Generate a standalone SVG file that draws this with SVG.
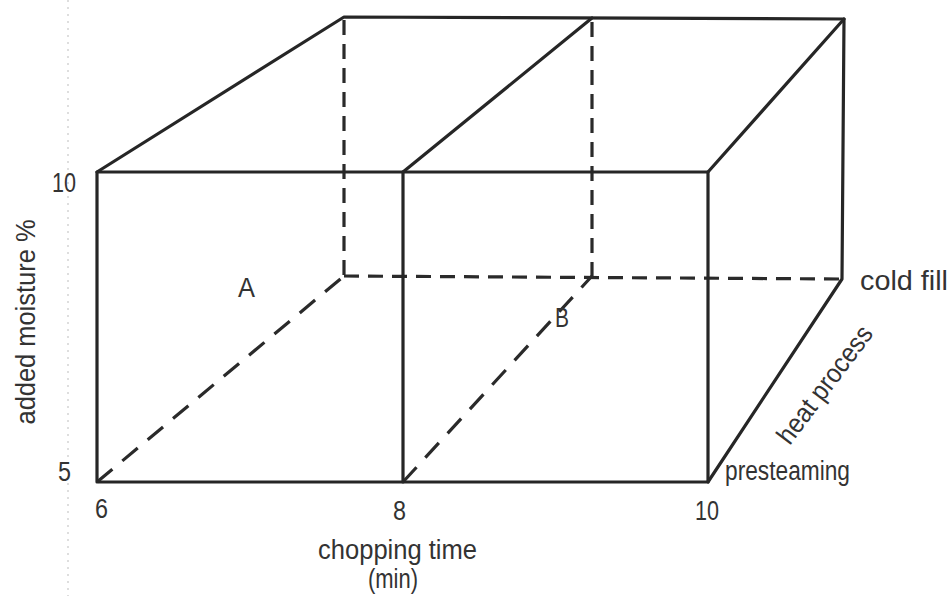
<svg xmlns="http://www.w3.org/2000/svg" width="950" height="596" viewBox="0 0 950 596">
<style>
.s{stroke:#262626;stroke-width:3.2;fill:none;stroke-linecap:round;stroke-linejoin:round}
.d{stroke:#2a2a2a;stroke-width:3.2;fill:none;stroke-dasharray:15 9}
.dd{stroke:#2a2a2a;stroke-width:3.2;fill:none;stroke-dasharray:20 13}
.t{font-family:"Liberation Sans",Arial,sans-serif;font-size:27px;fill:#333}
.g{stroke:#c8c8c8;stroke-width:1.2;stroke-dasharray:2 5;fill:none}
</style>
<rect width="950" height="596" fill="#fff"/>
<line class="g" x1="68" y1="0" x2="68" y2="596"/>
<g id="connectors">
<line class="d" x1="344" y1="20" x2="344" y2="276"/>
<line class="d" x1="592" y1="22" x2="592" y2="276"/>
<line class="d" x1="344" y1="276" x2="842" y2="279"/>
<line class="dd" x1="97" y1="482" x2="344" y2="276"/>
<line class="dd" x1="403" y1="482" x2="592" y2="276"/>
<polyline class="s" points="97,482 97,172 708,172 708,482 97,482"/>
<line class="s" x1="403" y1="172" x2="403" y2="482"/>
<polyline class="s" points="97,172 344,17 844,19 842,279 708,482"/>
<line class="s" x1="403" y1="172" x2="592" y2="18"/>
<line class="s" x1="708" y1="172" x2="844" y2="19"/>
</g>
<g id="axis-moisture">
<text class="t" x="52" y="192" textLength="24" lengthAdjust="spacingAndGlyphs">10</text>
<text class="t" x="58" y="481" textLength="13" lengthAdjust="spacingAndGlyphs">5</text>
<text class="t" transform="translate(35,322) rotate(-90)" text-anchor="middle" textLength="205" lengthAdjust="spacingAndGlyphs">added  moisture %</text>
</g>
<g id="axis-time">
<text class="t" x="95" y="518" textLength="13" lengthAdjust="spacingAndGlyphs">6</text>
<text class="t" x="393" y="520" textLength="13" lengthAdjust="spacingAndGlyphs">8</text>
<text class="t" x="695" y="520" textLength="24" lengthAdjust="spacingAndGlyphs">10</text>
<text class="t" x="318" y="559" textLength="159" lengthAdjust="spacingAndGlyphs">chopping  time</text>
<text class="t" x="368" y="588" textLength="50" lengthAdjust="spacingAndGlyphs">(min)</text>
</g>
<g id="axis-heat">
<text class="t" x="860" y="290" textLength="88" lengthAdjust="spacingAndGlyphs">cold  fill</text>
<text class="t" x="725" y="480" textLength="125" lengthAdjust="spacingAndGlyphs">presteaming</text>
<text class="t" transform="translate(832,390) rotate(-53)" text-anchor="middle" textLength="140" lengthAdjust="spacingAndGlyphs">heat process</text>
</g>
<g id="label-A"><text class="t" x="238" y="297" textLength="17" lengthAdjust="spacingAndGlyphs">A</text></g>
<g id="label-B"><text class="t" x="555" y="327" textLength="14" lengthAdjust="spacingAndGlyphs">B</text></g>
</svg>
